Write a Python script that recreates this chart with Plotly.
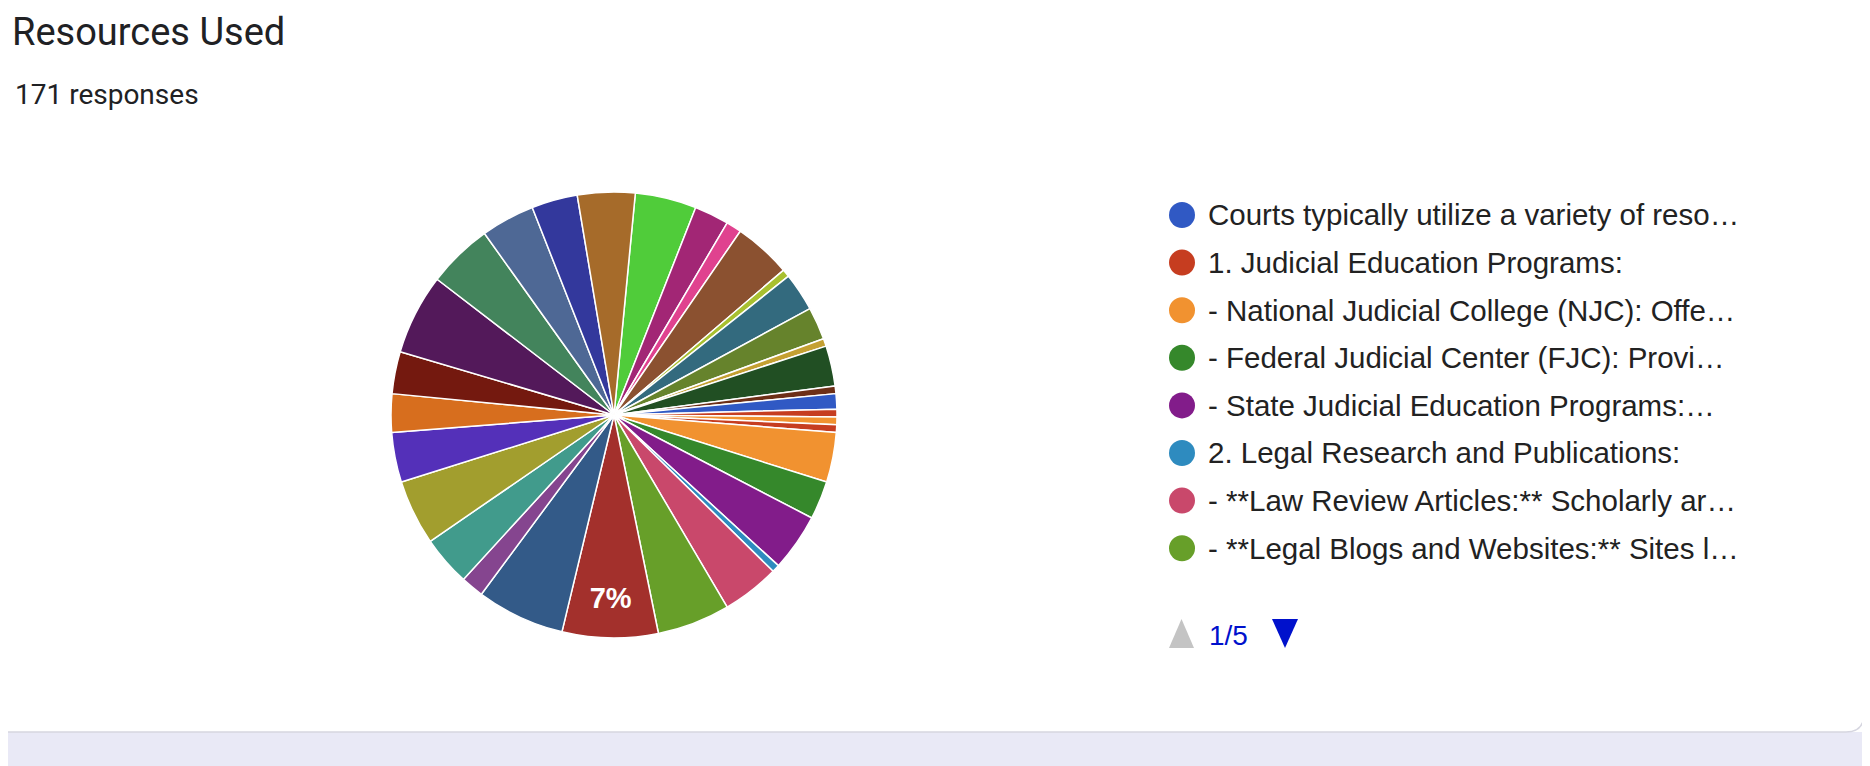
import plotly.graph_objects as go

# slices clockwise from 12 o'clock (values in degrees)
labels = ["Item 21", "Item 22", "Item 23", "Item 24", "Item 25", "Item 26", "Item 27",
          "Item 28", "Item 29", "Item 30",
          "Courts typically utilize a variety of resources",
          "1. Judicial Education Programs:",
          "- National Judicial College (NJC)",
          "Item 31",
          "Item 32",
          "- Federal Judicial Center (FJC)",
          "- State Judicial Education Programs:",
          "2. Legal Research and Publications:",
          "- **Law Review Articles:**",
          "- **Legal Blogs and Websites:**",
          "Item 9", "Item 10", "Item 11", "Item 12", "Item 13", "Item 14", "Item 15",
          "Item 16", "Item 17", "Item 18", "Item 19", "Item 20", "Item 33"]
values = [16, 9, 4, 15, 2, 10, 8.5, 2, 10.5, 2, 4, 2, 2, 2, 13, 10, 15, 2, 15, 19,
          25, 23, 6, 13, 17, 13, 10, 11, 21, 17, 14, 12, 15]
colors = ["#50cc3a", "#a22675", "#e0428f", "#8b5130", "#a8c030", "#336a7e", "#66832c",
          "#c4a032", "#214f23", "#6d2f17", "#3059c4", "#c63d20", "#f19230", "#c63d20",
          "#f19230", "#35882b", "#821c8a", "#2e8bbf", "#c9486b", "#679f29", "#a3302c",
          "#335a88", "#85458f", "#419b8c", "#a29e2e", "#5430b9", "#d76e1e", "#74190f",
          "#53195a", "#43845c", "#4e6895", "#33389c", "#a66b2a"]
slice_text = ["<b>7%</b>" if v == 25 else "" for v in values]

legend_names = ["Courts typically utilize a variety of reso…",
                "1. Judicial Education Programs:",
                "- National Judicial College (NJC): Offe…",
                "- Federal Judicial Center (FJC): Provi…",
                "- State Judicial Education Programs:…",
                "2. Legal Research and Publications:",
                "- **Law Review Articles:** Scholarly ar…",
                "- **Legal Blogs and Websites:** Sites l…"]
legend_colors = ["#3059c4", "#c63d20", "#f19230", "#35882b", "#821c8a", "#2e8bbf",
                 "#c9486b", "#679f29"]

W, H = 1870, 766


def px(x):
    return x / W


def py(y):
    return 1 - y / H


fig = go.Figure(go.Pie(
    labels=labels, values=values, sort=False, direction="clockwise", rotation=5.5,
    marker=dict(colors=colors, line=dict(color="white", width=1.5)),
    text=slice_text, textinfo="text", textposition="inside",
    insidetextorientation="horizontal",
    textfont=dict(family="Liberation Sans, Arial", size=29, color="white"),
    domain=dict(x=[px(383), px(829)], y=[py(630), py(184)]),
    showlegend=False,
))

shapes = [
    # page background strip below the card
    dict(type="rect", xref="paper", yref="paper", x0=0, x1=1, y0=0, y1=py(724),
         fillcolor="#e9e9f6", line_width=0, layer="below"),
    dict(type="path", xref="paper", yref="paper",
         path=f"M 0 {py(724)} L {px(1838)} {py(724)} Q {px(1856)} {py(724)} {px(1856)} {py(706)} L {px(1856)} 1",
         line=dict(color="#d6d6e0", width=1.5)),
]
annotations = [
    dict(text="Resources Used", x=px(2), y=py(24), xref="paper", yref="paper",
         xanchor="left", yanchor="middle", showarrow=False,
         font=dict(family="Roboto", size=38, color="#202124")),
    dict(text="171 responses", x=px(5), y=py(86), xref="paper", yref="paper",
         xanchor="left", yanchor="middle", showarrow=False,
         font=dict(family="Roboto", size=28, color="#202124")),
]

for i, (name, col) in enumerate(zip(legend_names, legend_colors)):
    yc = 207 + i * 47.6
    shapes.append(dict(type="circle", xref="paper", yref="paper",
                       x0=px(1161), x1=px(1187), y0=py(yc + 13), y1=py(yc - 13),
                       fillcolor=col, line_width=0))
    annotations.append(dict(text=name, x=px(1198), y=py(yc), xref="paper", yref="paper",
                            xanchor="left", yanchor="middle", showarrow=False,
                            font=dict(family="Liberation Sans, Arial", size=29.5,
                                      color="#222222")))

# pager
shapes.append(dict(type="path", xref="paper", yref="paper",
                   path=f"M {px(1161)} {py(640)} L {px(1186)} {py(640)} L {px(1173.5)} {py(611)} Z",
                   fillcolor="#c4c4c4", line_width=0))
shapes.append(dict(type="path", xref="paper", yref="paper",
                   path=f"M {px(1264)} {py(611)} L {px(1290)} {py(611)} L {px(1277)} {py(640)} Z",
                   fillcolor="#0011cc", line_width=0))
annotations.append(dict(text="1/5", x=px(1199), y=py(627), xref="paper", yref="paper",
                        xanchor="left", yanchor="middle", showarrow=False,
                        font=dict(family="Liberation Sans, Arial", size=28, color="#0011cc")))

fig.update_layout(
    width=W, height=H, margin=dict(l=0, r=0, t=0, b=0),
    paper_bgcolor="white", plot_bgcolor="white",
    shapes=shapes, annotations=annotations,
)
fig.write_html("out.html")
